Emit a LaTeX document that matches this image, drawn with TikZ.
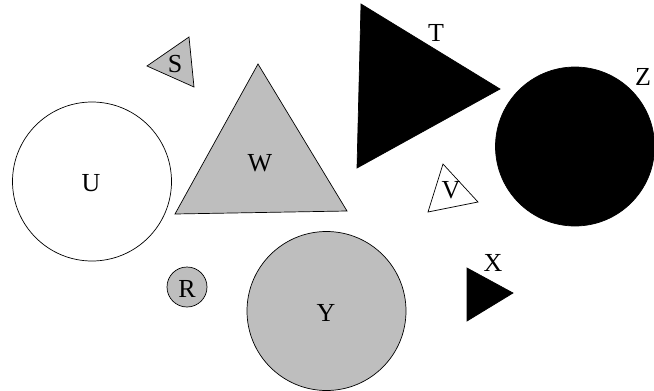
\documentclass[tikz,border=0pt]{standalone}
\usepackage{fontspec}
\setmainfont{Liberation Serif}
\definecolor{shade}{HTML}{BEBEBE}
\tikzset{
  lbl/.style={inner sep=0pt,font=\fontsize{26}{26}\selectfont},
  grayfill/.style={draw=black,fill=shade,line width=0.7pt},
  blackfill/.style={draw=black,fill=black,line width=0.7pt},
  whitefill/.style={draw=black,fill=white,line width=0.7pt}
}
\begin{document}
\begin{tikzpicture}[x=1pt,y=-1pt]
\useasboundingbox (0,0) rectangle (654,391);
% circles
\draw[whitefill] (92,181.5) circle (79.5);
\draw[grayfill] (326.5,311) circle (79.5);
\draw[grayfill] (187,287) circle (20);
\draw[blackfill] (575,146.5) circle (79.5);
% triangles
\draw[grayfill] (189,37) -- (147,66) -- (194,87) -- cycle;
\draw[grayfill] (258,64) -- (175,214) -- (347,211) -- cycle;
\draw[blackfill] (361,4) -- (357,168) -- (500,89) -- cycle;
\draw[whitefill] (443,164) -- (428,212) -- (478,202) -- cycle;
\draw[blackfill] (467,268) -- (467,321) -- (513,293) -- cycle;
% labels
\node[lbl] (labU) at (91,183) {U};
\node[lbl] (labY) at (326,313) {Y};
\node[lbl] (labR) at (187,289) {R};
\node[lbl] (labZ) at (643,77) {Z};
\node[lbl] (labS) at (175,64) {S};
\node[lbl] (labW) at (260,163) {W};
\node[lbl] (labT) at (436,33) {T};
\node[lbl] (labV) at (451,190) {V};
\node[lbl] (labX) at (493,263) {X};
\end{tikzpicture}
\end{document}
